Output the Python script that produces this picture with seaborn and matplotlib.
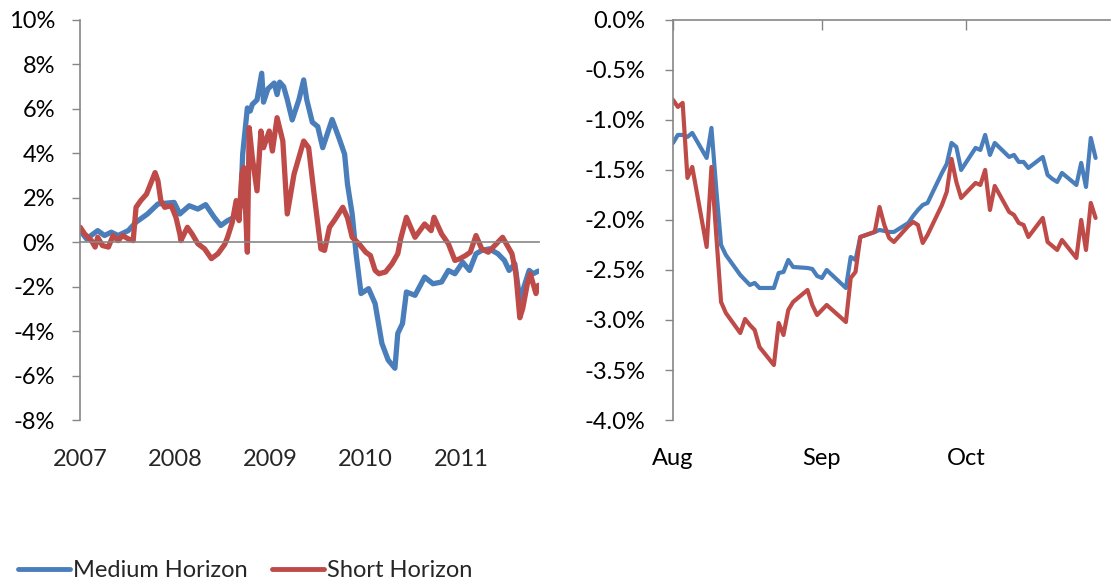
import matplotlib
matplotlib.use("Agg")
import matplotlib.pyplot as plt
import matplotlib.dates as mdates
from matplotlib.ticker import FuncFormatter
import pandas as pd
import seaborn as sns

# --- long history, Jan 2007 - Oct 2011 (values in %) ---
medium_long_dates = [
    "2007-01-02", "2007-01-26", "2007-03-10", "2007-04-05", "2007-05-01", "2007-05-27",
    "2007-07-05", "2007-08-04", "2007-09-17", "2007-10-27", "2007-12-28", "2008-01-19",
    "2008-02-24", "2008-03-28", "2008-04-27", "2008-05-30", "2008-06-24", "2008-07-20",
    "2008-08-15", "2008-09-08", "2008-09-16", "2008-10-04", "2008-10-15", "2008-10-23",
    "2008-11-10", "2008-11-28", "2008-12-05", "2008-12-22", "2009-01-15", "2009-01-26",
    "2009-02-05", "2009-02-20", "2009-03-06", "2009-03-25", "2009-04-20", "2009-05-08",
    "2009-05-20", "2009-06-10", "2009-07-01", "2009-07-20", "2009-08-25", "2009-09-20",
    "2009-10-12", "2009-10-23", "2009-11-10", "2009-11-25", "2009-12-14", "2010-01-12",
    "2010-02-06", "2010-03-04", "2010-03-28", "2010-04-23", "2010-05-04", "2010-05-22",
    "2010-06-06", "2010-07-09", "2010-08-15", "2010-09-16", "2010-10-19", "2010-11-14",
    "2010-12-09", "2011-01-08", "2011-02-03", "2011-02-28", "2011-03-22", "2011-04-20",
    "2011-05-23", "2011-06-17", "2011-07-05", "2011-07-27", "2011-08-15", "2011-09-20",
    "2011-10-05", "2011-10-25",
]
medium_long_values = [
    0.52, 0.15, 0.52, 0.30, 0.45, 0.30,
    0.52, 0.90, 1.27, 1.72, 1.79, 1.27,
    1.64, 1.49, 1.69, 1.12, 0.75, 0.97,
    1.12, 1.60, 3.96, 6.04, 5.90, 6.20,
    6.40, 7.60, 6.30, 6.90, 7.16, 6.64,
    7.20, 7.00, 6.42, 5.50, 6.42, 7.30,
    6.40, 5.40, 5.20, 4.25, 5.52, 4.70,
    3.96, 2.61, 1.27, -0.52, -2.31, -2.09,
    -2.76, -4.55, -5.30, -5.67, -4.10, -3.66,
    -2.24, -2.39, -1.57, -1.87, -1.79, -1.27,
    -1.42, -0.90, -1.27, -0.52, -0.37, -0.30,
    -0.52, -0.82, -1.27, -0.97, -2.60, -1.27,
    -1.42, -1.30,
]

short_long_dates = [
    "2007-01-02", "2007-01-19", "2007-02-14", "2007-02-28", "2007-03-10", "2007-03-28",
    "2007-04-20", "2007-05-08", "2007-05-27", "2007-06-13", "2007-07-05", "2007-07-24",
    "2007-08-04", "2007-08-22", "2007-09-13", "2007-10-01", "2007-10-16", "2007-10-27",
    "2007-11-07", "2007-11-22", "2007-12-17", "2008-01-04", "2008-01-19", "2008-01-23",
    "2008-02-17", "2008-03-06", "2008-03-28", "2008-04-23", "2008-05-19", "2008-06-13",
    "2008-07-09", "2008-07-20", "2008-08-07", "2008-08-22", "2008-09-02", "2008-09-13",
    "2008-09-20", "2008-10-04", "2008-10-11", "2008-10-23", "2008-11-10", "2008-11-25",
    "2008-12-05", "2008-12-27", "2009-01-08", "2009-01-26", "2009-02-17", "2009-03-06",
    "2009-04-01", "2009-05-08", "2009-05-27", "2009-06-17", "2009-07-13", "2009-07-27",
    "2009-08-15", "2009-09-02", "2009-10-05", "2009-10-23", "2009-11-10", "2009-12-06",
    "2010-01-01", "2010-01-19", "2010-02-06", "2010-02-21", "2010-03-18", "2010-04-12",
    "2010-05-04", "2010-05-15", "2010-06-06", "2010-07-09", "2010-08-15", "2010-09-09",
    "2010-09-20", "2010-10-19", "2010-11-14", "2010-12-09", "2010-12-27", "2011-01-19",
    "2011-02-06", "2011-02-28", "2011-03-22", "2011-04-16", "2011-05-23", "2011-06-10",
    "2011-06-28", "2011-07-16", "2011-07-31", "2011-08-15", "2011-08-26", "2011-09-13",
    "2011-09-24", "2011-10-16", "2011-10-25",
]
short_long_values = [
    0.67, 0.37, 0.07, -0.22, 0.22, -0.15,
    -0.22, 0.30, 0.07, 0.30, 0.15, 0.07,
    1.57, 1.87, 2.16, 2.69, 3.13, 2.76,
    1.87, 1.57, 1.64, 1.12, 0.37, 0.07,
    0.67, 0.37, -0.07, -0.30, -0.74, -0.52,
    -0.10, 0.22, 0.89, 1.87, 0.97, 3.06,
    3.36, -0.45, 5.15, 3.81, 2.31, 5.00,
    4.25, 5.00, 4.10, 5.60, 4.55, 1.27,
    3.06, 4.55, 4.25, 2.16, -0.30, -0.37,
    0.67, 0.97, 1.57, 1.10, 0.22, -0.07,
    -0.45, -0.60, -1.27, -1.42, -1.34, -0.97,
    -0.52, 0.15, 1.12, 0.22, 0.82, 0.52,
    1.12, 0.37, -0.07, -0.82, -0.75, -0.60,
    -0.45, 0.30, -0.30, -0.45, 0.00, 0.22,
    -0.15, -0.52, -1.42, -3.40, -2.99, -1.87,
    -1.42, -2.31, -1.94,
]

# --- close-up, trading days Aug - Oct 2011 (values in %) ---
recent_days = pd.bdate_range("2011-08-01", "2011-10-28").drop(pd.Timestamp("2011-09-05"))
medium_recent = [
    -1.23, -1.15, -1.15, -1.17, -1.13, -1.38, -1.08, -1.69, -2.25, -2.35,
    -2.55, -2.60, -2.65, -2.63, -2.68, -2.68, -2.53, -2.52, -2.40, -2.47,
    -2.48, -2.49, -2.56,
    -2.58, -2.50, -2.68, -2.37, -2.40, -2.17, -2.12, -2.10, -2.11, -2.12,
    -2.12, -2.03, -1.96, -1.90, -1.85, -1.83, -1.53, -1.44, -1.23, -1.27,
    -1.50,
    -1.28, -1.30, -1.15, -1.35, -1.23, -1.37, -1.35, -1.42, -1.42, -1.48,
    -1.37, -1.55, -1.59, -1.62, -1.53, -1.65, -1.43, -1.67, -1.18, -1.38,
]
short_recent = [
    -0.80, -0.87, -0.83, -1.58, -1.47, -2.27, -1.47, -2.15, -2.82, -2.93,
    -3.13, -2.99, -3.05, -3.10, -3.27, -3.45, -3.03, -3.15, -2.90, -2.82,
    -2.70, -2.85, -2.95,
    -2.90, -2.85, -3.02, -2.58, -2.52, -2.17, -2.12, -1.87, -2.05, -2.18,
    -2.22, -2.06, -2.02, -2.05, -2.23, -2.15, -1.85, -1.72, -1.39, -1.62,
    -1.78,
    -1.63, -1.65, -1.50, -1.90, -1.66, -1.92, -1.95, -2.03, -2.05, -2.17,
    -1.98, -2.22, -2.26, -2.30, -2.20, -2.38, -2.00, -2.30, -1.83, -1.98,
]

year_ticks = ["2007-01-01", "2008-01-01", "2009-01-01", "2010-01-01", "2011-01-01"]
year_labels = ["2007", "2008", "2009", "2010", "2011"]
month_ticks = ["2011-08-01", "2011-09-01", "2011-10-01"]
month_labels = ["Aug", "Sep", "Oct"]

BLUE = "#4A7EBB"
RED = "#BE4B48"
GREY = "#868686"
FS = 17

sns.set_theme(style="white")
plt.rcParams["font.family"] = ["Lato", "DejaVu Sans"]
plt.rcParams["font.size"] = FS

fig = plt.figure(figsize=(11.11, 5.85), dpi=100)
ax1 = fig.add_axes([0.072, 0.282, 0.413, 0.684])
ax2 = fig.add_axes([0.6058, 0.282, 0.3933, 0.684])

# left panel: long history
sns.lineplot(x=pd.to_datetime(medium_long_dates), y=medium_long_values, ax=ax1,
             color=BLUE, linewidth=3.8, label="Medium Horizon")
sns.lineplot(x=pd.to_datetime(short_long_dates), y=short_long_values, ax=ax1,
             color=RED, linewidth=3.8, label="Short Horizon")
ax1.set_xlim(pd.Timestamp("2007-01-01"), pd.Timestamp("2011-10-27"))
ax1.set_ylim(-8, 10)
ax1.set_yticks(range(-8, 11, 2))
ax1.yaxis.set_major_formatter(FuncFormatter(lambda v, p: f"{v:.0f}%"))

# horizontal axis line sits at 0%, labels stay at the bottom
ax1.spines["bottom"].set_position(("data", 0))
tick_pos = mdates.date2num(pd.to_datetime(year_ticks))
ax1.set_xticks(tick_pos)
ax1.tick_params(axis="x", direction="out", length=6, width=1, color=GREY,
                labelbottom=False)
sec = ax1.secondary_xaxis("bottom")
sec.set_xticks(tick_pos, labels=year_labels)
sec.tick_params(length=0, pad=21, labelsize=FS)
sec.spines["bottom"].set_visible(False)

# right panel: Aug - Oct 2011
sns.lineplot(x=recent_days, y=medium_recent, ax=ax2, color=BLUE, linewidth=3.0)
sns.lineplot(x=recent_days, y=short_recent, ax=ax2, color=RED, linewidth=3.0)
ax2.set_xlim(pd.Timestamp("2011-08-01"), pd.Timestamp("2011-10-31"))
ax2.set_ylim(-4, 0)
ax2.set_yticks([-4 + 0.5 * i for i in range(9)])
ax2.yaxis.set_major_formatter(FuncFormatter(lambda v, p: f"{v:.1f}%"))
ax2.set_xticks(mdates.date2num(pd.to_datetime(month_ticks)), labels=month_labels)
ax2.tick_params(axis="x", top=True, bottom=False, labeltop=False, labelbottom=True,
                direction="in", length=7, width=1, color=GREY, pad=20)

for ax, pad in ((ax1, 12), (ax2, 14)):
    ax.set_xlabel("")
    ax.set_ylabel("")
    ax.tick_params(axis="y", direction="out", length=6, width=1, color=GREY,
                   pad=pad, left=True)
    ax.tick_params(labelsize=FS, labelcolor="black")
    for side in ("left", "right", "top", "bottom"):
        ax.spines[side].set_color(GREY)
        ax.spines[side].set_linewidth(1.2)
    ax.spines["right"].set_visible(False)
    ax.grid(False)
    ax.patch.set_alpha(0)

ax1.spines["top"].set_visible(False)
ax2.spines["bottom"].set_visible(False)
ax2.spines["top"].set_visible(True)

handles, labels = ax1.get_legend_handles_labels()
ax1.get_legend().remove()
leg = fig.legend(handles, labels, loc="center left", bbox_to_anchor=(-0.003, 0.024),
                 ncol=2, frameon=False, fontsize=FS, handlelength=2.2,
                 handletextpad=0.15, columnspacing=1.0)
for line in leg.get_lines():
    line.set_linewidth(3.5)

fig.savefig("out.png", dpi=100)
